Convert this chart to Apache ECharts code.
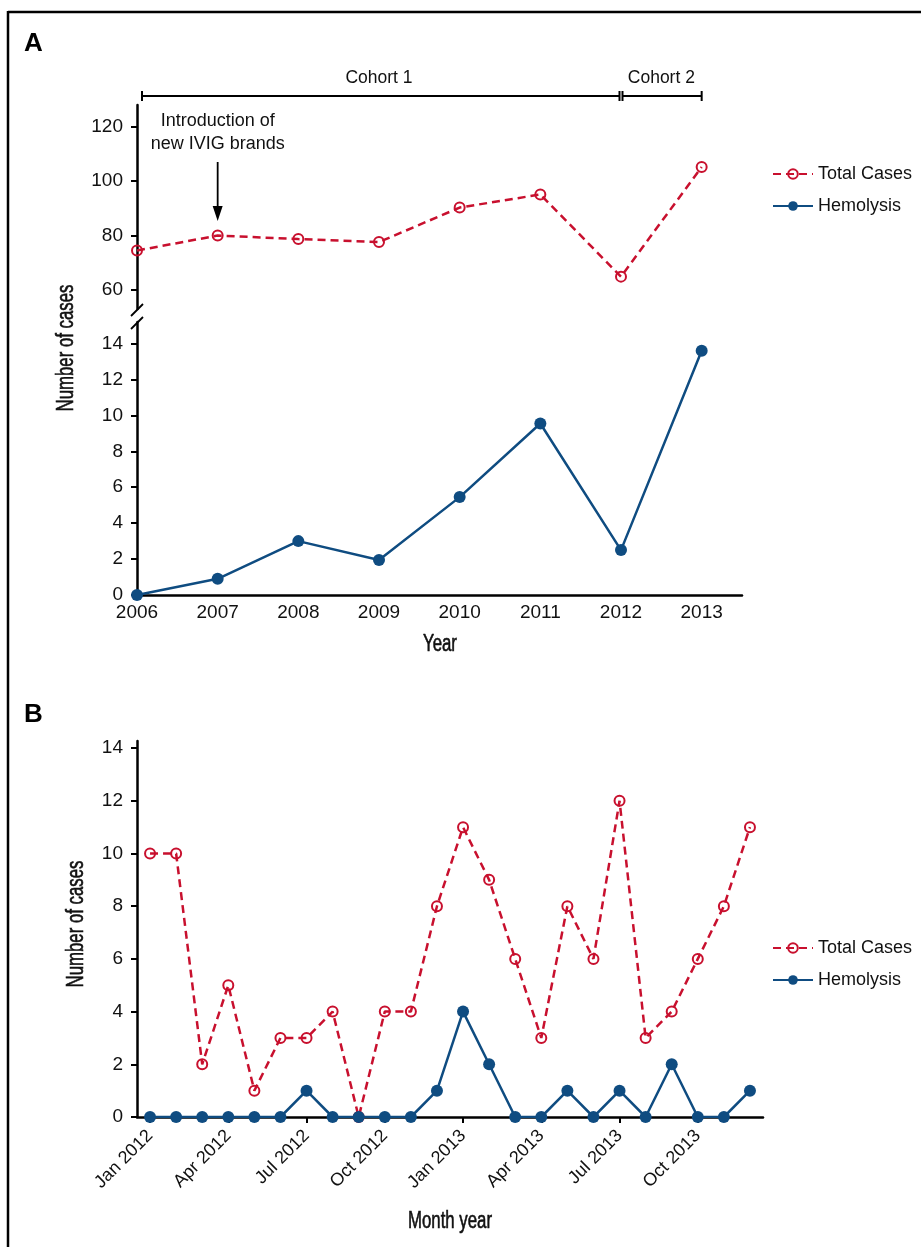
<!DOCTYPE html>
<html>
<head>
<meta charset="utf-8">
<script src="https://cdn.jsdelivr.net/npm/echarts@6/dist/echarts.min.js"></script>
<style>html,body{margin:0;padding:0;background:#fff}#c{width:921px;height:1247px}</style>
</head>
<body>
<div id="c"></div>
<script>
// ---- Data ----
const yearsA = [2006, 2007, 2008, 2009, 2010, 2011, 2012, 2013];
const totalA = [74.5, 80, 78.7, 77.6, 90.3, 95.1, 64.9, 105.2];
const hemoA = [0, 0.9, 3, 1.95, 5.45, 9.55, 2.5, 13.6];
const yTicksATop = [60, 80, 100, 120];
const yTicksALow = [0, 2, 4, 6, 8, 10, 12, 14];

const monthsB = ['Jan 2012','Feb 2012','Mar 2012','Apr 2012','May 2012','Jun 2012','Jul 2012','Aug 2012','Sep 2012','Oct 2012','Nov 2012','Dec 2012',
                 'Jan 2013','Feb 2013','Mar 2013','Apr 2013','May 2013','Jun 2013','Jul 2013','Aug 2013','Sep 2013','Oct 2013','Nov 2013','Dec 2013'];
const totalB = [10, 10, 2, 5, 1, 3, 3, 4, 0, 4, 4, 8, 11, 9, 6, 3, 8, 6, 12, 3, 4, 6, 8, 11];
const hemoB = [0, 0, 0, 0, 0, 0, 1, 0, 0, 0, 0, 1, 4, 2, 0, 0, 1, 0, 1, 0, 2, 0, 0, 1];
const yTicksB = [0, 2, 4, 6, 8, 10, 12, 14];

const RED = '#C8102E';
const BLUE = '#0F4C81';
const FONT = "'Liberation Sans', Arial, Helvetica, sans-serif";

const chart = echarts.init(document.getElementById('c'), null, {renderer: 'canvas'});

const axisLineStyle = {show: true, lineStyle: {color: '#000', width: 2.5}};
const yTick = {show: true, length: 6, lineStyle: {color: '#000', width: 2}};
const lblStyle = {color: '#111', fontSize: 19, fontFamily: FONT};

function totalSeries(xi, yi, data) {
  return {
    name: 'Total Cases', type: 'line', xAxisIndex: xi, yAxisIndex: yi, data: data,
    symbol: 'circle', symbolSize: 10, z: 2,
    itemStyle: {color: 'rgba(255,255,255,0)', borderColor: RED, borderWidth: 2},
    lineStyle: {color: RED, width: 2.5, type: [8, 5]},
    emphasis: {disabled: true}, animation: false
  };
}
function hemoSeries(xi, yi, data) {
  return {
    name: 'Hemolysis', type: 'line', xAxisIndex: xi, yAxisIndex: yi, data: data,
    symbol: 'circle', symbolSize: 12, z: 3,
    itemStyle: {color: BLUE},
    lineStyle: {color: BLUE, width: 2.5},
    emphasis: {disabled: true}, animation: false
  };
}

const legendBase = {
  orient: 'vertical', left: 767, itemWidth: 40, itemHeight: 12, itemGap: 14,
  textStyle: {color: '#111', fontSize: 18, fontFamily: FONT},
  data: ['Total Cases', 'Hemolysis'], selectedMode: false
};

const option = {
  animation: false,
  backgroundColor: '#fff',
  legend: [
    Object.assign({}, legendBase, {top: 160}),
    Object.assign({}, legendBase, {top: 934})
  ],
  grid: [
    {left: 137, top: 105, width: 605, height: 204},
    {left: 137, top: 322, width: 605, height: 273},
    {left: 137, top: 741, width: 626, height: 376}
  ],
  xAxis: [
    {type: 'value', gridIndex: 0, min: 2006, max: 2013.5, show: false},
    {type: 'value', gridIndex: 1, min: 2006, max: 2013.5,
     axisLine: axisLineStyle, axisTick: {show: false}, splitLine: {show: false},
     axisLabel: Object.assign({margin: 8, customValues: yearsA, formatter: v => String(v)}, lblStyle)},
    {type: 'category', gridIndex: 2, data: monthsB, boundaryGap: true,
     axisLine: axisLineStyle,
     axisTick: {show: true, interval: 2, alignWithLabel: true, length: 6, lineStyle: {color: '#000', width: 2}},
     axisLabel: Object.assign({interval: 2, rotate: 45, margin: 16}, lblStyle, {fontSize: 18}),
     splitLine: {show: false}}
  ],
  yAxis: [
    {type: 'value', gridIndex: 0, min: 53, max: 128,
     axisLine: axisLineStyle, splitLine: {show: false},
     axisTick: Object.assign({customValues: yTicksATop}, yTick),
     axisLabel: Object.assign({margin: 14, customValues: yTicksATop}, lblStyle)},
    {type: 'value', gridIndex: 1, min: 0, max: 15.2,
     axisLine: axisLineStyle, splitLine: {show: false},
     axisTick: Object.assign({customValues: yTicksALow}, yTick),
     axisLabel: Object.assign({margin: 14, customValues: yTicksALow}, lblStyle)},
    {type: 'value', gridIndex: 2, min: 0, max: 14.27,
     axisLine: axisLineStyle, splitLine: {show: false},
     axisTick: Object.assign({customValues: yTicksB}, yTick),
     axisLabel: Object.assign({margin: 14, customValues: yTicksB}, lblStyle)}
  ],
  series: [
    totalSeries(0, 0, yearsA.map((y, i) => [y, totalA[i]])),
    hemoSeries(1, 1, yearsA.map((y, i) => [y, hemoA[i]])),
    totalSeries(2, 2, totalB),
    hemoSeries(2, 2, hemoB)
  ]
};
chart.setOption(option);

// ---- Annotations positioned through the axes ----
const px = v => chart.convertToPixel({xAxisIndex: 1}, v);
const x06 = px(2006), x07 = px(2007), x12 = px(2012), x13 = px(2013);
const axisX = x06;
const by = 96;
const blk = {stroke: '#000', lineWidth: 2};
const g = [];
// frame
g.push({type: 'line', shape: {x1: 8, y1: 12, x2: 921, y2: 12}, style: {stroke: '#000', lineWidth: 2.5}});
g.push({type: 'line', shape: {x1: 8, y1: 11, x2: 8, y2: 1247}, style: {stroke: '#000', lineWidth: 2.5}});
// panel letters
g.push({type: 'text', left: 24, top: 31, style: {text: 'A', font: "bold 26px " + FONT, fill: '#000'}});
g.push({type: 'text', left: 24, top: 702, style: {text: 'B', font: "bold 26px " + FONT, fill: '#000'}});
// cohort brackets
g.push({type: 'line', shape: {x1: x06 + 5, y1: by, x2: x12 - 1.5, y2: by}, style: blk});
g.push({type: 'line', shape: {x1: x12 + 1.5, y1: by, x2: x13, y2: by}, style: blk});
g.push({type: 'line', shape: {x1: x06 + 5, y1: by - 5, x2: x06 + 5, y2: by + 5}, style: blk});
g.push({type: 'line', shape: {x1: x12 - 1.5, y1: by - 5, x2: x12 - 1.5, y2: by + 5}, style: blk});
g.push({type: 'line', shape: {x1: x12 + 1.5, y1: by - 5, x2: x12 + 1.5, y2: by + 5}, style: blk});
g.push({type: 'line', shape: {x1: x13, y1: by - 5, x2: x13, y2: by + 5}, style: blk});
g.push({type: 'text', x: (x06 + x12) / 2, y: 78, style: {text: 'Cohort 1', font: "17.5px " + FONT, fill: '#111', align: 'center', verticalAlign: 'middle'}});
g.push({type: 'text', x: (x12 + x13) / 2, y: 78, style: {text: 'Cohort 2', font: "17.5px " + FONT, fill: '#111', align: 'center', verticalAlign: 'middle'}});
// introduction annotation
g.push({type: 'text', x: x07, y: 121, style: {text: 'Introduction of', font: "18px " + FONT, fill: '#111', align: 'center', verticalAlign: 'middle'}});
g.push({type: 'text', x: x07, y: 144, style: {text: 'new IVIG brands', font: "18px " + FONT, fill: '#111', align: 'center', verticalAlign: 'middle'}});
g.push({type: 'line', shape: {x1: x07, y1: 162, x2: x07, y2: 212}, style: {stroke: '#000', lineWidth: 1.8}});
g.push({type: 'polygon', shape: {points: [[x07 - 5, 206], [x07 + 5, 206], [x07, 221]]}, style: {fill: '#000'}});
// axis break marks
g.push({type: 'line', shape: {x1: axisX - 6, y1: 316, x2: axisX + 6, y2: 304}, style: {stroke: '#000', lineWidth: 1.8}});
g.push({type: 'line', shape: {x1: axisX - 6, y1: 329, x2: axisX + 6, y2: 317}, style: {stroke: '#000', lineWidth: 1.8}});
// axis titles (condensed look)
const titleStyle = t => ({text: t, font: "23px " + FONT, fill: '#111', stroke: '#111', lineWidth: 0.6,
                          align: 'center', verticalAlign: 'middle'});
g.push({type: 'text', x: 67, y: 348, rotation: Math.PI / 2, scaleX: 0.73, style: titleStyle('Number of cases')});
g.push({type: 'text', x: 77, y: 924, rotation: Math.PI / 2, scaleX: 0.73, style: titleStyle('Number of cases')});
g.push({type: 'text', x: 440, y: 645, scaleX: 0.73, style: titleStyle('Year')});
g.push({type: 'text', x: 450, y: 1222, scaleX: 0.73, style: titleStyle('Month year')});
chart.setOption({graphic: g});
</script>
</body>
</html>
